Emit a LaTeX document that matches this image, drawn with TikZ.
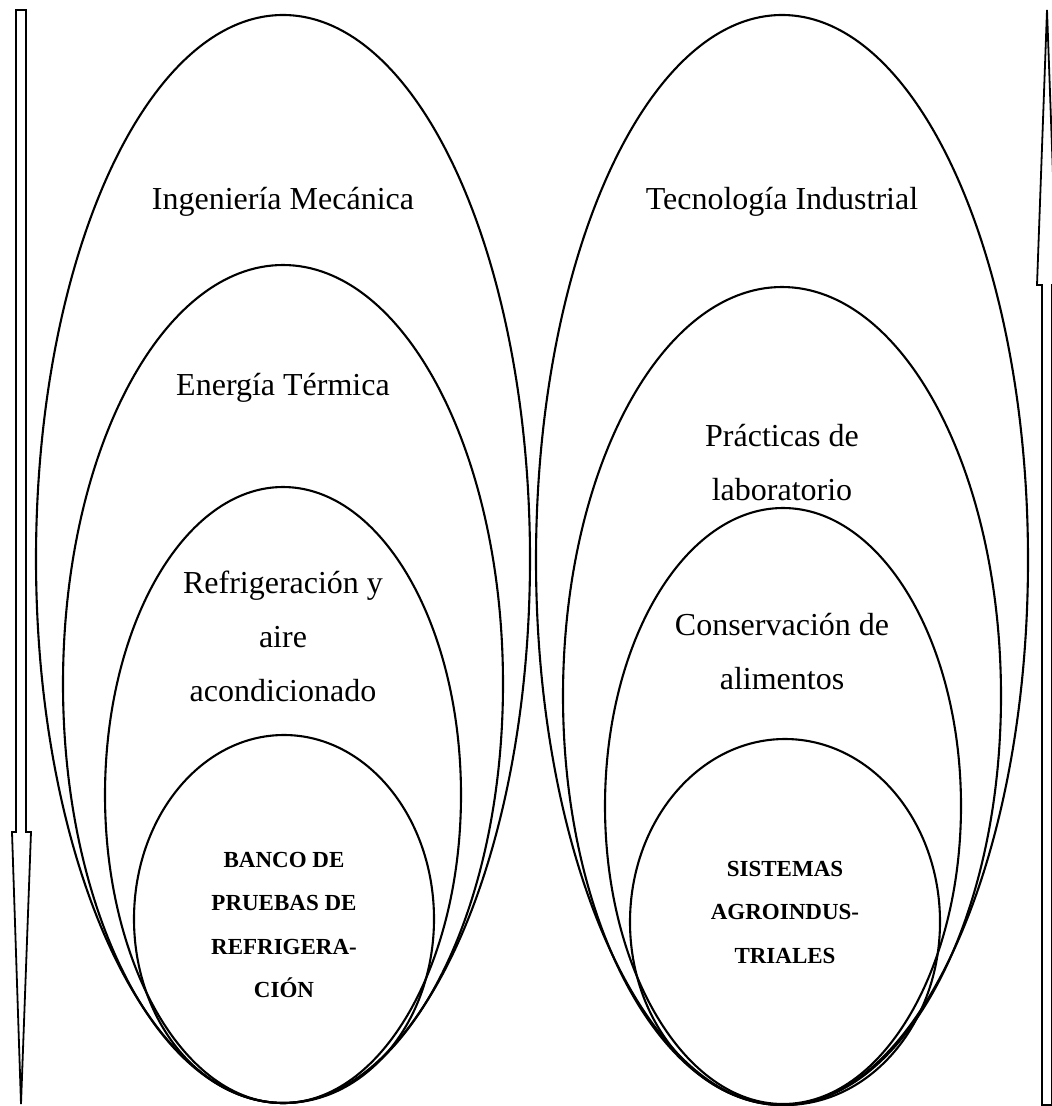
\documentclass[tikz,border=0pt]{standalone}
\usepackage{fontspec}
\setmainfont{Liberation Serif}
\usepackage{tikz}

\begin{document}
\begin{tikzpicture}[x=1pt,y=-1pt,line width=2.1pt]
    \tikzset{every node/.style={inner sep=0pt,align=center},
      area/.style={font=\fontsize{32}{54}\selectfont},
      core/.style={font=\fontsize{23}{43.5}\selectfont\bfseries}}
    \useasboundingbox (0,0) rectangle (1052,1106);
    % left group
    \draw [black] (283,559) ellipse [x radius=247, y radius=544];
    \draw [black] (283,684) ellipse [x radius=220, y radius=419];
    \draw [black] (283,795) ellipse [x radius=178, y radius=308];
    \draw [black] (284,919) ellipse [x radius=150, y radius=184];
    \node [area] (ingmec) at (283,202) {Ingeniería Mecánica};
    \node [area] (energia) at (283,388) {Energía Térmica};
    \node [area] (refri) at (283,636) {Refrigeración y\\aire\\acondicionado};
    \node [core] (banco) at (284,925) {BANCO DE\\PRUEBAS DE\\REFRIGERA-\\CIÓN};
    % right group
    \draw [black] (782,560) ellipse [x radius=246, y radius=545];
    \draw [black] (782,696) ellipse [x radius=219, y radius=409];
    \draw [black] (783,806) ellipse [x radius=178, y radius=298];
    \draw [black] (785,922) ellipse [x radius=155, y radius=183];
    \node [area] (tecind) at (782,202) {Tecnología Industrial};
    \node [area] (practicas) at (782,463) {Prácticas de\\laboratorio};
    \node [area] (conserva) at (782,652) {Conservación de\\alimentos};
    \node [core] (sistemas) at (785,912) {SISTEMAS\\AGROINDUS-\\TRIALES};
    % arrows at the sides
    \draw [black,line width=1.8pt] (16,10) -- (26,10) -- (26,832) -- (31,832)
      -- (21,1104) -- (12,832) -- (16,832) -- cycle;
    \draw [black,line width=1.8pt] (1042,1105) -- (1042,285) -- (1037,285)
      -- (1047,10) -- (1057,285) -- (1052,285) -- (1052,1105) -- cycle;
\end{tikzpicture}
\end{document}
